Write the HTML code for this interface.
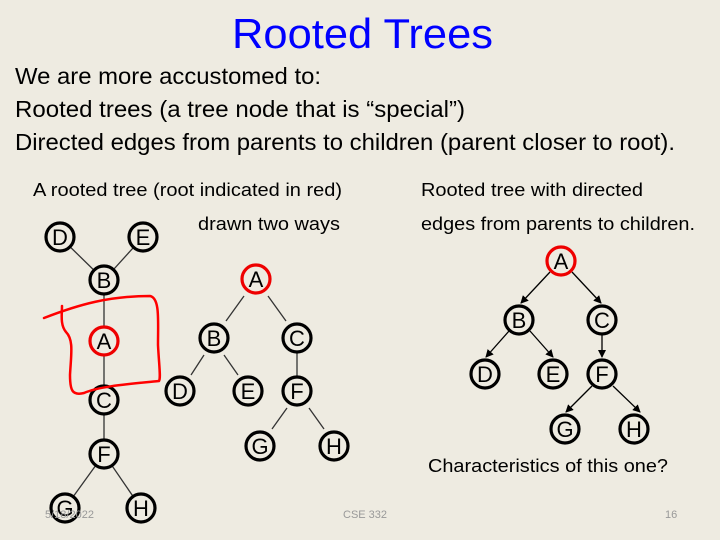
<!DOCTYPE html>
<html><head><style>html,body{margin:0;padding:0;background:#eeebe1;}svg{display:block}</style></head>
<body>
<svg width="720" height="540" viewBox="0 0 720 540" xmlns="http://www.w3.org/2000/svg" font-family="Liberation Sans, Arial, sans-serif">
<rect width="720" height="540" fill="#eeebe1"/>
<defs><marker id="ar" markerWidth="8" markerHeight="8" refX="7" refY="4" orient="auto" markerUnits="userSpaceOnUse"><path d="M0,0 L8,4 L0,8 z" fill="#000"/></marker></defs>
<text x="232" y="48" font-size="42" fill="#0000ff" textLength="261" lengthAdjust="spacingAndGlyphs">Rooted Trees</text>
<g font-size="23" fill="#000">
<text x="15" y="84" textLength="306" lengthAdjust="spacingAndGlyphs">We are more accustomed to:</text>
<text x="15" y="117" textLength="450" lengthAdjust="spacingAndGlyphs">Rooted trees (a tree node that is “special”)</text>
<text x="15" y="150" textLength="660" lengthAdjust="spacingAndGlyphs">Directed edges from parents to children (parent closer to root).</text>
</g>
<g font-size="18" fill="#000">
<text x="33" y="196" textLength="309" lengthAdjust="spacingAndGlyphs">A rooted tree (root indicated in red)</text>
<text x="421" y="196" textLength="222" lengthAdjust="spacingAndGlyphs">Rooted tree with directed</text>
<text x="198" y="230" textLength="142" lengthAdjust="spacingAndGlyphs">drawn two ways</text>
<text x="421" y="230" textLength="274" lengthAdjust="spacingAndGlyphs">edges from parents to children.</text>
<text x="428" y="472" textLength="240" lengthAdjust="spacingAndGlyphs">Characteristics of this one?</text>
</g>
<g stroke="#333" stroke-width="1.3">
<line x1="60" y1="237" x2="104" y2="280"/><line x1="143" y1="237" x2="104" y2="280"/>
<line x1="104" y1="280" x2="104" y2="400"/><line x1="104" y1="400" x2="104" y2="454"/>
<line x1="104" y1="454" x2="65" y2="508"/><line x1="104" y1="454" x2="141" y2="508"/>
<line x1="244" y1="296" x2="226" y2="321"/><line x1="268" y1="296" x2="286" y2="321"/>
<line x1="204" y1="355" x2="191" y2="375"/><line x1="224" y1="355" x2="238" y2="375"/>
<line x1="297" y1="338" x2="297" y2="391"/>
<line x1="287" y1="408" x2="272" y2="429"/><line x1="309" y1="408" x2="324" y2="429"/>
</g>
<g stroke="#000" stroke-width="1.3" marker-end="url(#ar)">
<line x1="550" y1="272" x2="521" y2="303"/><line x1="572" y1="272" x2="601" y2="303"/>
<line x1="509" y1="331" x2="486" y2="357"/><line x1="530" y1="331" x2="553" y2="357"/>
<line x1="602" y1="335" x2="602" y2="357"/>
<line x1="592" y1="386" x2="566" y2="412"/><line x1="613" y1="386" x2="640" y2="412"/>
</g>
<g font-size="22" text-anchor="middle" fill="#000">
<g stroke-width="3.2" fill="#eeebe1" stroke="#000">
<circle cx="60" cy="237" r="14"/><circle cx="143" cy="237" r="14"/><circle cx="104" cy="280" r="14"/>
<circle cx="104" cy="341" r="14" stroke="#e00"/><circle cx="104" cy="400" r="14"/><circle cx="104" cy="454" r="14"/>
<circle cx="65" cy="508" r="14"/><circle cx="141" cy="508" r="14"/>
<circle cx="256" cy="279" r="14" stroke="#e00"/><circle cx="214" cy="338" r="14"/><circle cx="297" cy="338" r="14"/>
<circle cx="180" cy="391" r="14"/><circle cx="248" cy="391" r="14"/><circle cx="297" cy="391" r="14"/>
<circle cx="260" cy="446" r="14"/><circle cx="334" cy="446" r="14"/>
<circle cx="561" cy="261" r="14" stroke="#e00"/><circle cx="519" cy="320" r="14"/><circle cx="602" cy="320" r="14"/>
<circle cx="485" cy="374" r="14"/><circle cx="553" cy="374" r="14"/><circle cx="602" cy="374" r="14"/>
<circle cx="565" cy="429" r="14"/><circle cx="634" cy="429" r="14"/>
</g>
<text x="60" y="245">D</text><text x="143" y="245">E</text><text x="104" y="288">B</text>
<text x="104" y="349">A</text><text x="104" y="408">C</text><text x="104" y="462">F</text>
<text x="65" y="516">G</text><text x="141" y="516">H</text>
<text x="256" y="287">A</text><text x="214" y="346">B</text><text x="297" y="346">C</text>
<text x="180" y="399">D</text><text x="248" y="399">E</text><text x="297" y="399">F</text>
<text x="260" y="454">G</text><text x="334" y="454">H</text>
<text x="561" y="269">A</text><text x="519" y="328">B</text><text x="602" y="328">C</text>
<text x="485" y="382">D</text><text x="553" y="382">E</text><text x="602" y="382">F</text>
<text x="565" y="437">G</text><text x="634" y="437">H</text>
</g>
<path d="M44,318 C80,304 110,296 150,296 C160,298 158,320 158,345 C159,365 161,378 159,381 C130,384 100,386 84,393 C72,396 70,390 70,375 C71,355 74,340 66,332 C60,325 62,314 62,306" fill="none" stroke="#f00" stroke-width="2.5" stroke-linecap="round" stroke-linejoin="round"/>
<g font-size="11" fill="#999">
<text x="45" y="518">5/18/2022</text>
<text x="343" y="518">CSE 332</text>
<text x="665" y="518">16</text>
</g>
</svg>
</body></html>
